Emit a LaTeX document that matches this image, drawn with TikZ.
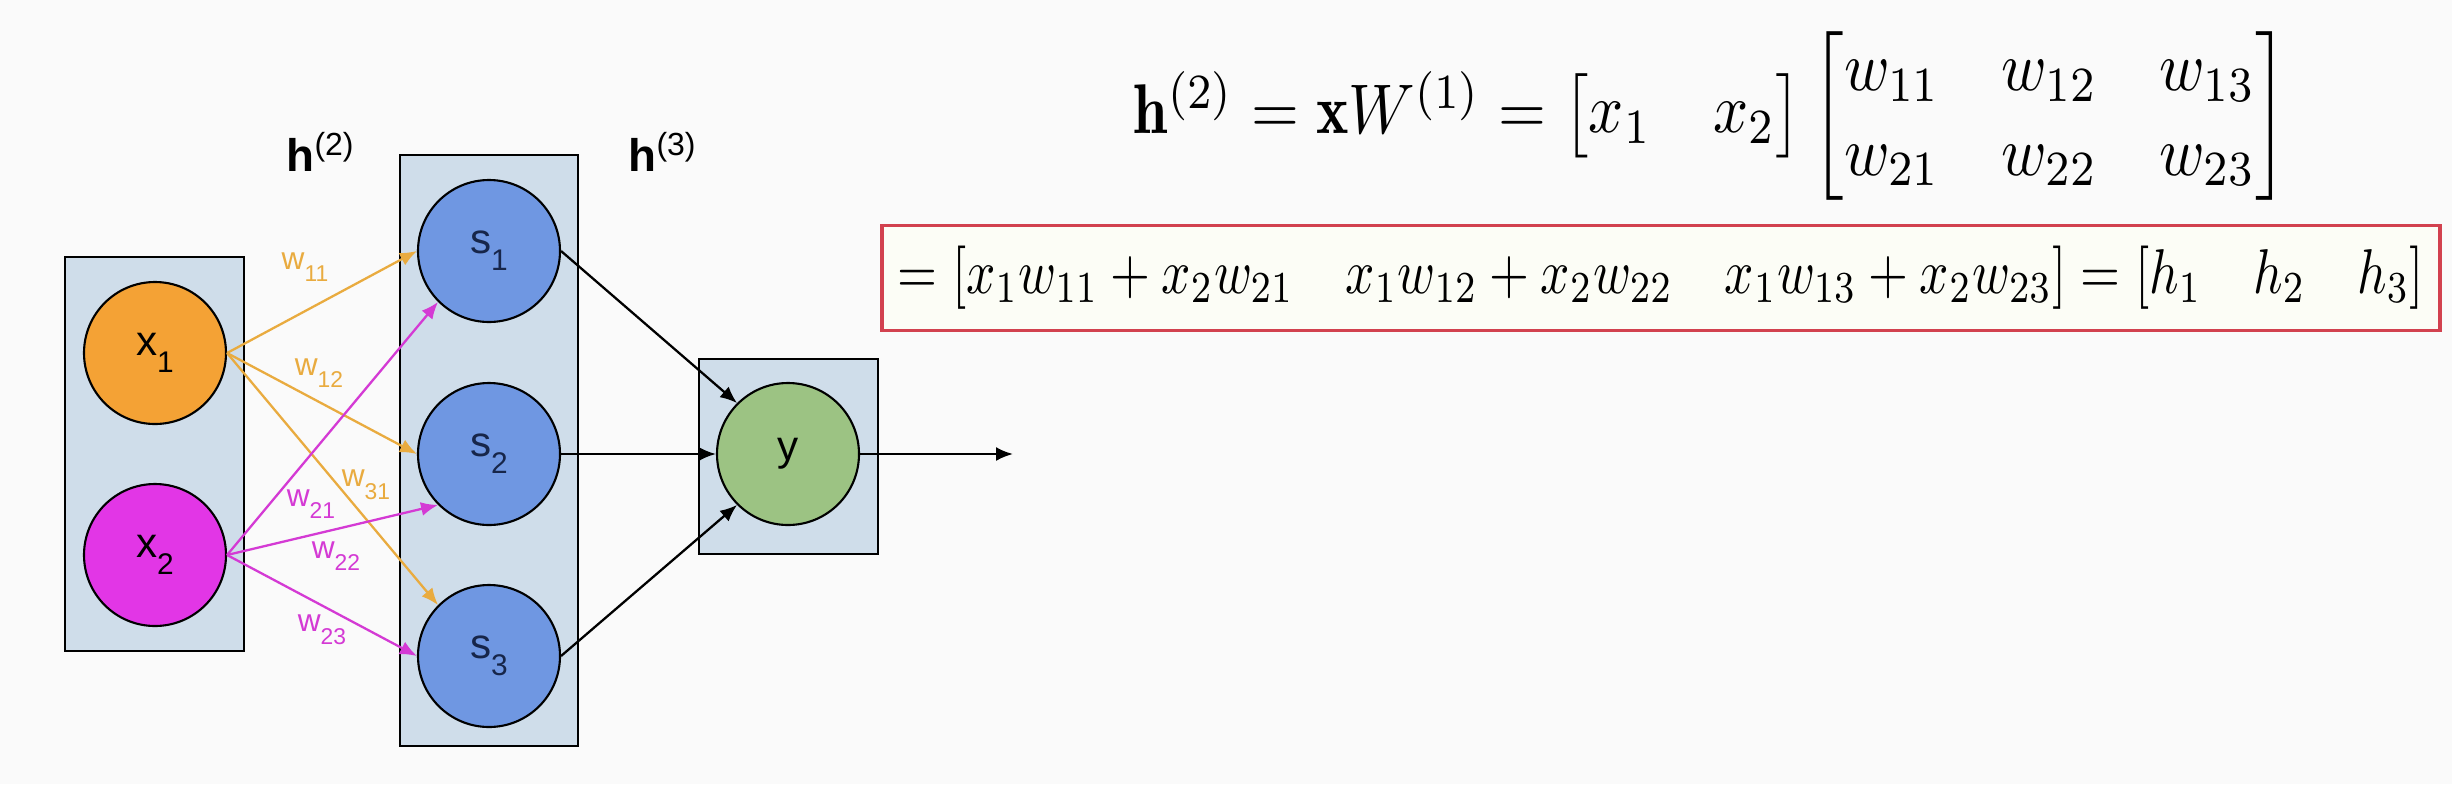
\documentclass[tikz,border=0pt]{standalone}
\usepackage{amsmath}
\usepackage{fontspec}
\setsansfont{Liberation Sans}
\usetikzlibrary{arrows.meta}

\definecolor{bgcol}{HTML}{FAFAFA}
\definecolor{xorange}{HTML}{F4A235}
\definecolor{xmagenta}{HTML}{E236E6}
\definecolor{sblue}{HTML}{6F97E2}
\definecolor{snavy}{HTML}{17264A}
\definecolor{ygreen}{HTML}{9CC383}
\definecolor{layerfill}{HTML}{CFDDEA}
\definecolor{worange}{HTML}{E9AB3F}
\definecolor{wmagenta}{HTML}{D43AD4}
\definecolor{boxred}{HTML}{D2414F}
\definecolor{eqfill}{HTML}{FCFDF6}

\newcommand\nsub[1]{\raisebox{-.75ex}{\fontsize{8.5}{9}\selectfont #1}}
\newcommand\wsub[1]{\raisebox{-.75ex}{\fontsize{6.5}{7}\selectfont #1}}

\begin{document}
\begin{tikzpicture}[x=0.1mm, y=-0.1mm,
    every node/.style = {font=\sffamily},
    neuron/.style = {circle, draw, line width=0.6pt, minimum size=1.42cm, inner sep=0pt,
        font=\sffamily\fontsize{12}{14}\selectfont},
    layerbox/.style = {draw, line width=0.8pt, fill=layerfill},
    wlab/.style = {font=\sffamily\fontsize{9}{10}\selectfont, inner sep=1pt},
    hlab/.style = {font=\sffamily\fontsize{13}{15}\selectfont},
    edge/.style = {-{Latex[length=1.7mm,width=1.4mm]}, line width=0.65pt}]
    \fill[bgcol] (0,0) rectangle (2452,784);
    % layers
    \node[layerbox, minimum width=1.79cm, minimum height=3.94cm] (in) at (154.5,454) {};
    \node[layerbox, minimum width=1.78cm, minimum height=5.91cm] (hid) at (489,450.5) {};
    \node[layerbox, minimum width=1.79cm, minimum height=1.95cm] (out) at (788.5,456.5) {};
    \node[hlab] (h2) at (321,152) {\textbf{h}\textsuperscript{(2)}};
    \node[hlab] (h3) at (663,152) {\textbf{h}\textsuperscript{(3)}};
    % neurons
    \node[neuron, fill=xorange] (x1) at (155,353) {x\nsub{1}};
    \node[neuron, fill=xmagenta] (x2) at (155,555) {x\nsub{2}};
    \foreach \i/\y in {1/251, 2/454, 3/656}
        \node[neuron, fill=sblue, text=snavy] (s\i) at (489,\y) {s\nsub{\i}};
    \node[neuron, fill=ygreen] (y) at (788,454) {y};
    \coordinate (yout) at (1013,454);
    % weights
    \foreach \t in {s1.west, s2.west, s3.north west}
        \draw[edge, worange] (x1.east) -- (\t);
    \foreach \t in {s1.south west, s2.south west, s3.west}
        \draw[edge, wmagenta] (x2.east) -- (\t);
    \draw[edge] (s1.east) -- (y.north west);
    \draw[edge] (s2.east) -- (y.west);
    \draw[edge] (s3.east) -- (y.south west);
    \draw[edge] (y.east) -- (yout);
    \node[wlab, text=worange] (w11) at (305,267) {w\wsub{11}};
    \node[wlab, text=worange] (w12) at (319,373) {w\wsub{12}};
    \node[wlab, text=worange] (w31) at (366,485) {w\wsub{31}};
    \node[wlab, text=wmagenta] (w21) at (311,504) {w\wsub{21}};
    \node[wlab, text=wmagenta] (w22) at (336,556) {w\wsub{22}};
    \node[wlab, text=wmagenta] (w23) at (322,630) {w\wsub{23}};
    % equations
    \node[inner sep=0pt] (eq1) at (1711,116) {\scalebox{1.75}[2.0]{%
        $\mathbf{h}^{(2)} = \mathbf{x}W^{(1)} =
        \begin{bmatrix} x_1 & x_2 \end{bmatrix}
        \begin{bmatrix} w_{11} & w_{12} & w_{13}\\ w_{21} & w_{22} & w_{23} \end{bmatrix}$}};
    \node[draw=boxred, line width=1pt, fill=eqfill, minimum width=15.58cm, minimum height=1.05cm]
        (eq2) at (1661,278) {\scalebox{1.46}[1.8]{%
        $= [\begin{matrix} x_1w_{11}+x_2w_{21} & x_1w_{12}+x_2w_{22} & x_1w_{13}+x_2w_{23} \end{matrix}]
        = [\begin{matrix} h_1 & h_2 & h_3 \end{matrix}]$}};
\end{tikzpicture}
\end{document}
